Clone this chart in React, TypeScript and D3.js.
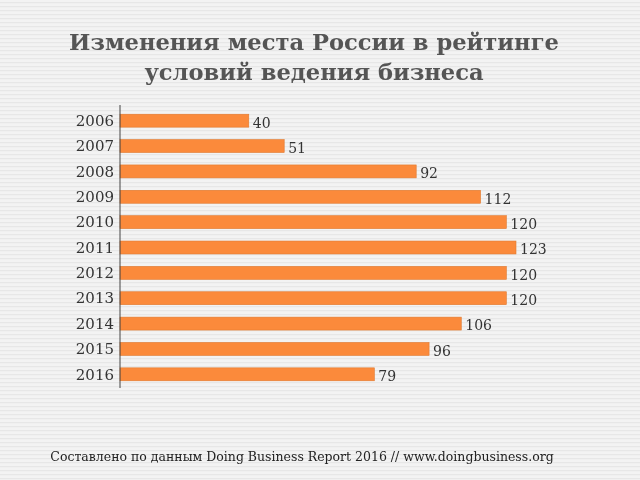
import React from "react";
import * as d3 from "d3";

const years = ["2006", "2007", "2008", "2009", "2010", "2011", "2012", "2013", "2014", "2015", "2016"];
const ranks = [40, 51, 92, 112, 120, 123, 120, 120, 106, 96, 79];
const titleLines = ["Изменения места России в рейтинге", "условий ведения бизнеса"];
const footer = "Составлено по данным Doing Business Report 2016 // www.doingbusiness.org";

const W = 640;
const H = 480;
const serif = "'DejaVu Serif', 'Liberation Serif', Georgia, serif";

export default function App() {
  const x = d3.scaleLinear().domain([0, 123]).range([120, 516]);
  const y = d3.scaleBand().domain(years).range([108, 387]).paddingInner(0.49).paddingOuter(0.245);

  return (
    <svg width={W} height={H} style={{ position: "fixed", left: 0, top: 0 }}>
      <defs>
        <pattern id="stripes" width="8" height="4" patternUnits="userSpaceOnUse">
          <rect width="8" height="4" fill="#f3f3f3" />
          <rect y="2" width="8" height="1.2" fill="#e7e7e7" />
        </pattern>
      </defs>
      <rect width={W} height={H} fill="url(#stripes)" />

      {titleLines.map((t, i) => (
        <text key={t} x={314} y={50 + i * 30} textAnchor="middle" fontFamily={serif}
          fontWeight="bold" fontSize={22.6} fill="#555">{t}</text>
      ))}

      {years.map((yr, i) => (
        <g key={yr}>
          <rect x={x(0)} y={y(yr)} width={x(ranks[i]) - x(0)} height={y.bandwidth()}
            fill="#fb8a3b" stroke="#e07a30" strokeWidth={0.6} />
          <text x={114} y={y(yr)! + y.bandwidth() / 2} dy="0.35em" textAnchor="end"
            fontFamily={serif} fontSize={15} fill="#333">{yr}</text>
          <text x={x(ranks[i]) + 4} y={y(yr)! + y.bandwidth() / 2 + 2} dy="0.35em"
            fontFamily={serif} fontSize={14} fill="#333">{ranks[i]}</text>
        </g>
      ))}

      <line x1={120} x2={120} y1={105} y2={388} stroke="#444" strokeWidth={1} />

      <text x={302} y={461} textAnchor="middle" fontFamily={serif} fontSize={12.5} fill="#222">{footer}</text>
    </svg>
  );
}
